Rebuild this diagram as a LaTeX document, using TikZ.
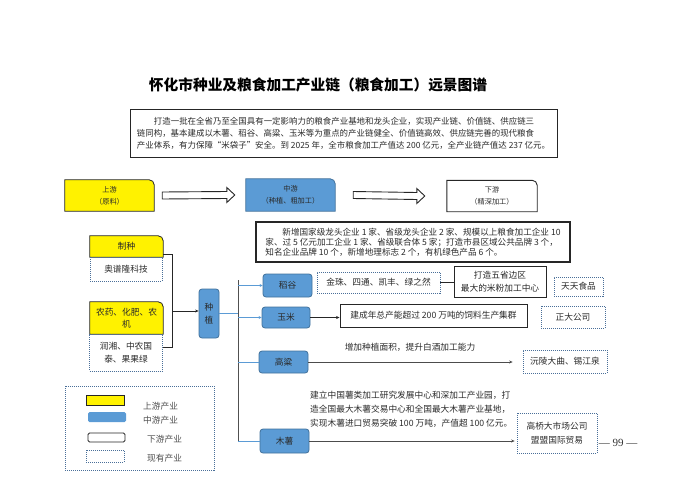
\documentclass[tikz,border=0pt]{standalone}
\usepackage{fontspec}
\setmainfont{Noto Sans CJK SC}
\newfontfamily\seriffont{Liberation Serif}
\usetikzlibrary{calc,backgrounds,arrows.meta}
\definecolor{myblue}{HTML}{5B9BD5}
\definecolor{myblueline}{HTML}{41719C}
\definecolor{dashc}{HTML}{4A6F99}
\definecolor{txt}{HTML}{2A2A2A}
\definecolor{trunkc}{HTML}{505050}
\newcommand\fs[2]{\fontsize{#1pt}{#2pt}\selectfont}
\newcommand\tabshape[2]{%
  \begin{pgfonlayer}{background}
  \draw[#2] (#1.south west) -- (#1.north west) -- ([xshift=-5pt]#1.north east)
    arc[start angle=90,end angle=0,radius=5pt] -- (#1.south east) -- cycle;
  \end{pgfonlayer}}
\newcommand\blockarrow[2]{%
  \draw[line width=0.9pt, draw=black!85, fill=white]
    ([yshift=3.5pt]#1) -- ([xshift=-8pt,yshift=3.5pt]#2) -- ([xshift=-8pt,yshift=7.5pt]#2)
    -- (#2) -- ([xshift=-8pt,yshift=-7.5pt]#2) -- ([xshift=-8pt,yshift=-3.5pt]#2)
    -- ([yshift=-3.5pt]#1) -- cycle;}
\tikzset{
  base/.style={inner sep=0pt, align=center, text=txt, font=\fs{8.7}{12}},
  tabtext/.style={base, font=\fs{7.2}{12}},
  bluebox/.style={base, fill=myblue, draw=myblueline, rounded corners=3pt, line width=0.8pt},
  dbox/.style={base, draw=dashc, dash pattern=on 1pt off 1pt, line width=0.7pt},
  bbox/.style={base, draw=black!85, line width=0.9pt},
  dark/.style={draw=black!85, line width=0.8pt},
  trunk/.style={draw=trunkc, line width=1pt},
  branch/.style={draw=myblue, line width=0.8pt},
  tip/.style={-{Stealth[length=3.5pt,width=3pt]}}
}
\begin{document}
\begin{tikzpicture}[x=1pt,y=-1pt]
\useasboundingbox (0,0) rectangle (700,495);

% title
\node[base, font=\fs{14.7}{16}\bfseries, text=black] (title) at (318,85) {怀化市种业及粮食加工产业链（粮食加工）远景图谱};

% intro box
\node[bbox, minimum width=427pt, minimum height=48pt, align=left, font=\fs{8.45}{12}] (intro) at (343.5,133)
{\hspace*{17pt}打造一批在全省乃至全国具有一定影响力的粮食产业基地和龙头企业，实现产业链、价值链、供应链三\\
链同构，基本建成以木薯、稻谷、高粱、玉米等为重点的产业链健全、价值链高效、供应链完善的现代粮食\\
产业体系，有力保障“米袋子”安全。到 2025 年，全市粮食加工产值达 200 亿元，全产业链产值达 237 亿元。};

% chain
\node[tabtext, minimum width=89pt, minimum height=31pt] (up) at (109.5,195.5) {上游\\（原料）};
\tabshape{up}{fill=yellow, draw=black!85, line width=0.8pt}
\node[tabtext, minimum width=89pt, minimum height=32pt] (mid) at (290.5,195) {中游\\（种植、粗加工）};
\tabshape{mid}{fill=myblue, draw=myblueline, line width=0.8pt}
\node[tabtext, minimum width=90pt, minimum height=31pt] (down) at (492,196) {下游\\（精深加工）};
\tabshape{down}{fill=white, draw=black!85, line width=0.9pt}

\coordinate (a1s) at ($(up.east)+(8,0)$);
\coordinate (a1e) at ($(mid.west)+(-11,0)$);
\coordinate (a2s) at ($(mid.east)+(18,0)$);
\coordinate (a2e) at ($(down.west)+(-22,0)$);
\blockarrow{a1s}{a1e}
\blockarrow{a2s}{a2e}

% middle text box
\node[bbox, line width=1.1pt, minimum width=314pt, minimum height=40pt, align=left, font=\fs{8.6}{10}] (goal) at (413,242)
{\hspace*{17pt}新增国家级龙头企业 1 家、省级龙头企业 2 家、规模以上粮食加工企业 10\\
家、过 5 亿元加工企业 1 家、省级联合体 5 家；打造市县区域公共品牌 3 个，\\
知名企业品牌 10 个，新增地理标志 2 个，有机绿色产品 6 个。};

% left inputs
\node[base, minimum width=73pt, minimum height=21pt] (zz) at (126.5,246.5) {制种};
\tabshape{zz}{fill=yellow, draw=black!85, line width=0.8pt}
\node[dbox, minimum width=72pt, minimum height=24pt] (apl) at (126,269) {奥谱隆科技};
\node[base, minimum width=73pt, minimum height=32pt] (ny) at (126.5,318) {农药、化肥、农\\机};
\tabshape{ny}{fill=yellow, draw=black!85, line width=0.8pt}
\node[dbox, minimum width=73pt, minimum height=37pt, font=\fs{8.7}{13}] (rx) at (126,352.5) {润湘、中农国\\泰、果果绿};

\node[bluebox, minimum width=20pt, minimum height=49pt, font=\fs{8.7}{13}] (zhi) at (209,313.5) {种\\植};

\coordinate (bj) at (172,311);
\draw[dark] ($(zz.east)+(0,7.5)$) -| (bj);
\draw[dark] ($(rx.east)+(0,-5.5)$) -| (bj);
\draw[dark, tip] (bj) -- (bj -| zhi.west);

% trunk
\coordinate (ttop) at (238,280);
\coordinate (tbot) at (238,441);
\draw[trunk] (ttop) -- (tbot);
\draw[branch] (zhi.east) -- (zhi.east -| ttop);

% crops
\node[bluebox, minimum width=49pt, minimum height=23pt] (dg) at (287.5,285.5) {稻谷};
\node[bluebox, minimum width=48pt, minimum height=21pt] (ym) at (286,317.5) {玉米};
\node[bluebox, minimum width=49pt, minimum height=22pt] (gl) at (283.5,362) {高粱};
\node[bluebox, minimum width=49pt, minimum height=24pt] (ms) at (284.5,441) {木薯};

\draw[branch, -{Stealth[length=3pt,width=3pt]}] (ttop |- dg) -- (dg.west);
\draw[branch, -{Stealth[length=3pt,width=3pt]}] (ttop |- ym) -- (ym.west);
\draw[branch] (ttop |- gl) -- (gl.west);
\draw[branch] (tbot) -- (ms.west);

% rice row
\node[dbox, minimum width=123pt, minimum height=21pt] (jz) at (378.5,282.5) {金珠、四通、凯丰、绿之然};
\node[bbox, minimum width=92pt, minimum height=31pt, font=\fs{8.7}{13.5}] (dz) at (500,281.5) {打造五省边区\\最大的米粉加工中心};
\node[dbox, minimum width=49pt, minimum height=19pt] (tt) at (578.5,286.5) {天天食品};
\draw[dark, line width=1pt] (jz.east) -- (jz.east -| dz.west);

% corn row
\node[bbox, minimum width=187pt, minimum height=23pt] (jc) at (433.5,315.5) {建成年总产能超过 200 万吨的饲料生产集群};
\node[dbox, minimum width=64pt, minimum height=22pt] (zd) at (573,317) {正大公司};
\draw[dark, tip] (ym.east) -- (ym.east -| jc.west);

% sorghum row
\node[base] (gltxt) at (410,347) {增加种植面积，提升白酒加工能力};
\node[dbox, minimum width=84pt, minimum height=23pt] (yl) at (565,361.5) {沅陵大曲、锡江泉};
\draw[dark, draw=black!70, tip, shorten >=10pt] (gl.east) -- (gl.east -| yl.west);

% cassava row
\node[base, anchor=west, align=left, font=\fs{8.7}{14}] (mstxt) at (310,409)
{建立中国薯类加工研究发展中心和深加工产业园，打\\造全国最大木薯交易中心和全国最大木薯产业基地，\\实现木薯进口贸易突破 100 万吨，产值超 100 亿元。};
\node[dbox, minimum width=80pt, minimum height=40pt, font=\fs{8.7}{14}] (gq) at (557,433) {高桥大市场公司\\盟盟国际贸易};
\draw[dark, draw=black!70, tip, shorten >=2pt] (ms.east) -- (ms.east -| gq.west);

% page number
\node[inner sep=0pt, font=\seriffont\fs{11}{12}, text=black!80] (pg) at (618,443) {— 99 —};

% legend
\node[dbox, minimum width=149pt, minimum height=84pt] (legend) at (139.5,428) {};
\node[draw=black!85, fill=yellow, line width=0.8pt, inner sep=0pt, minimum width=38pt, minimum height=10pt] (lgy) at (105,400) {};
\node[fill=myblue, rounded corners=1.5pt, inner sep=0pt, minimum width=38pt, minimum height=10pt] (lgb) at (107,417) {};
\node[draw=black!85, rounded corners=1.5pt, line width=0.9pt, inner sep=0pt, minimum width=37pt, minimum height=9pt] (lgw) at (106.5,437.5) {};
\node[dbox, minimum width=38pt, minimum height=12pt] (lgd) at (105,456) {};
\node[base, anchor=west, text=black!70] (lt1) at (143,406) {上游产业};
\node[base, anchor=west, text=black!70] (lt2) at (143,420) {中游产业};
\node[base, anchor=west, text=black!70] (lt3) at (147,439) {下游产业};
\node[base, anchor=west, text=black!70] (lt4) at (147,458) {现有产业};
\end{tikzpicture}
\end{document}
